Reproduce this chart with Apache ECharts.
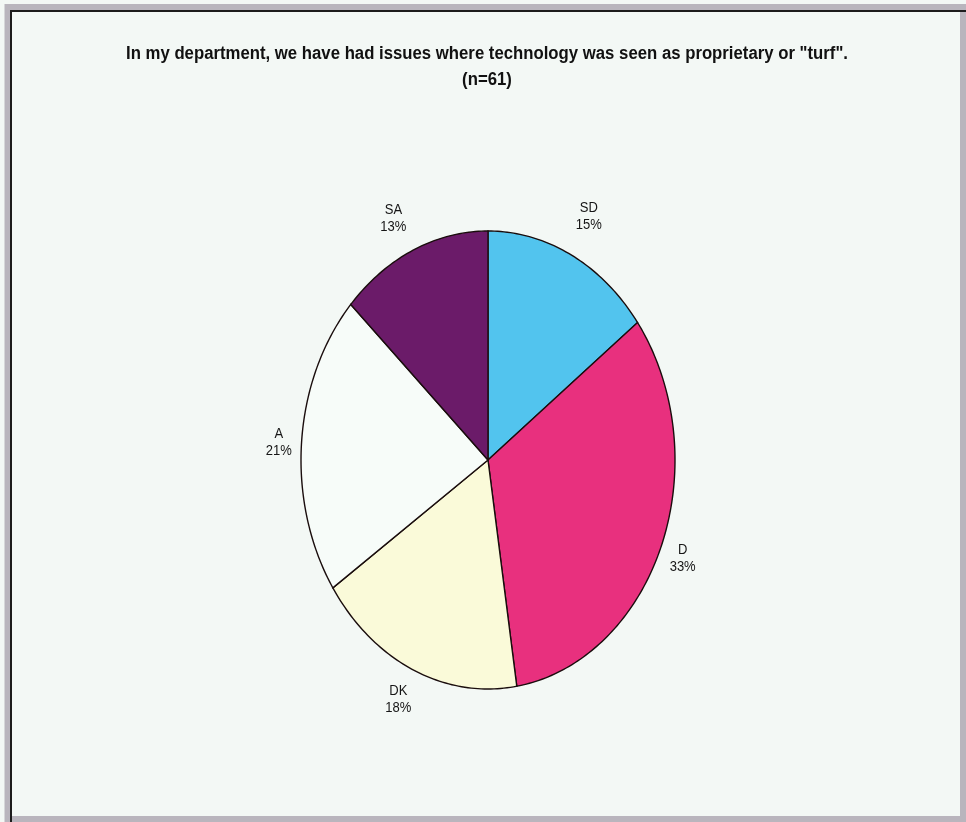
<!DOCTYPE html>
<html>
<head>
<meta charset="utf-8">
<script src="https://cdn.jsdelivr.net/npm/echarts@6/dist/echarts.min.js"></script>
<style>
  html, body { margin: 0; padding: 0; background: #fff; }
  #chart { width: 966px; height: 822px; }
</style>
</head>
<body>
<div id="chart"></div>
<script>
// survey answers, clockwise from 12 o'clock
const categories = ["SD", "D", "DK", "A", "SA"]
const counts = [9, 20, 11, 13, 8] // n = 61
const sliceColors = ["#52c4ee", "#e8307e", "#fafad9", "#f7fcf9", "#6b1b69"]

const titleText = 'In my department, we have had issues where technology was seen as proprietary or "turf".\n(n=61)'

// layout of the (elliptical) pie
const cx = 488
const cy = 460
const rx = 187
const ry = 229
const labelK = 1.17
const textSquash = 0.93 // original text is a bit narrow
// small hand nudges so labels sit like the original
const labelNudge = { SD: [3, -4], D: [-8, -2], DK: [-2, -6], A: [9, 3], SA: [-7, 4] }

const total = counts.reduce((a, b) => a + b, 0)
const cum = [0]
counts.forEach((v, i) => cum.push(cum[i] + v))

const chart = echarts.init(document.getElementById("chart"))

const renderSlice = (params, api) => {
  const i = params.dataIndex
  const a0 = (cum[i] / total) * Math.PI * 2
  const a1 = ((cum[i] + api.value(1)) / total) * Math.PI * 2
  const steps = Math.max(4, Math.ceil((a1 - a0) / (Math.PI / 180)))
  const pts = [[cx, cy]]
  for (let k = 0; k <= steps; k++) {
    const a = a0 + ((a1 - a0) * k) / steps
    pts.push([cx + rx * Math.sin(a), cy - ry * Math.cos(a)])
  }
  const mid = (a0 + a1) / 2
  const nudge = labelNudge[categories[i]] || [0, 0]
  const pct = Math.round((api.value(1) / total) * 100)
  return {
    type: "group",
    children: [
      {
        type: "polygon",
        shape: { points: pts },
        style: { fill: sliceColors[i], stroke: "#1a0d0d", lineWidth: 1.4 },
      },
      {
        type: "text",
        x: cx + rx * labelK * Math.sin(mid) + nudge[0],
        y: cy - ry * labelK * Math.cos(mid) + nudge[1],
        scaleX: textSquash,
        style: {
          text: categories[i] + "\n" + pct + "%",
          x: 0,
          y: 0,
          align: "center",
          verticalAlign: "middle",
          font: '14px "Liberation Sans", Arial, sans-serif',
          lineHeight: 17,
          fill: "#161616",
        },
      },
    ],
  }
}

const option = {
  backgroundColor: "#f3f8f5",
  animation: false,
  graphic: [
    {
      type: "rect",
      shape: { x: 7.5, y: 7, width: 955.5, height: 812 },
      style: { fill: "none", stroke: "#b9b5bd", lineWidth: 6 },
    },
    {
      type: "polyline",
      shape: { points: [[11, 822], [11, 11], [966, 11]] },
      style: { fill: "none", stroke: "#1c1c1c", lineWidth: 2 },
    },
    {
      type: "text",
      x: 487,
      y: 67,
      scaleX: textSquash,
      style: {
        text: titleText,
        align: "center",
        verticalAlign: "middle",
        font: 'bold 18px "Liberation Sans", Arial, sans-serif',
        lineHeight: 26,
        fill: "#111",
      },
    },
  ],
  series: [
    {
      type: "custom",
      coordinateSystem: "none",
      data: categories.map((c, i) => [i, counts[i]]),
      renderItem: renderSlice,
    },
  ],
}

chart.setOption(option)
</script>
</body>
</html>
